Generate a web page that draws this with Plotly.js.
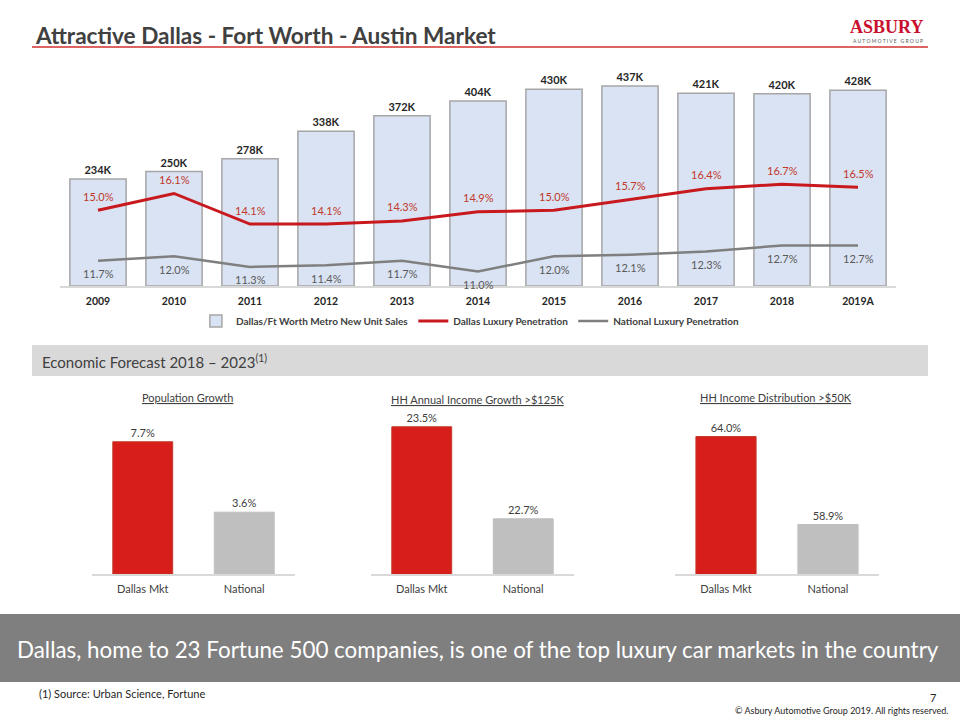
<!DOCTYPE html>
<html><head><meta charset="utf-8">
<script src="https://cdn.plot.ly/plotly-3.0.1.min.js"></script>
<style>html,body{margin:0;padding:0;background:#fff}#chart{width:960px;height:720px}</style>
</head><body><div id="chart"></div>
<script>
// ---- data ----
const years = ['2009','2010','2011','2012','2013','2014','2015','2016','2017','2018','2019A'];
const unitSalesK = [234,250,278,338,372,404,430,437,421,420,428];
const dallasLuxuryPct = [15.0,16.1,14.1,14.1,14.3,14.9,15.0,15.7,16.4,16.7,16.5];
const nationalLuxuryPct = [11.7,12.0,11.3,11.4,11.7,11.0,12.0,12.1,12.3,12.7,12.7];
const forecastCategories = ['Dallas Mkt','National'];
const populationGrowth = [7.7,3.6];
const hhIncomeGrowth = [23.5,22.7];
const hhIncomeDistribution = [64.0,58.9];

// ---- helpers ----
const W = 960, H = 720;
const px = v => v / W;
const py = v => 1 - v / H;
const FONT = 'Lato, "Open Sans", sans-serif';
const DARK = '#404040';

const traces = [
  {type:'bar', x:years, y:unitSalesK, name:'Dallas/Ft Worth Metro New Unit Sales',
   width:0.74, marker:{color:'#dae3f3', line:{color:'#a6a6a6', width:1.5}},
   text:unitSalesK.map(v=>v+'K'), textposition:'outside', cliponaxis:false,
   textfont:{family:FONT, size:11, weight:'bold', color:'#262626'},
   xaxis:'x', yaxis:'y', hoverinfo:'skip'},
  {type:'scatter', mode:'lines', x:years, y:dallasLuxuryPct, name:'Dallas Luxury Penetration',
   line:{color:'#c8191e', width:3}, xaxis:'x', yaxis:'y2', hoverinfo:'skip'},
  {type:'scatter', mode:'lines', x:years, y:nationalLuxuryPct, name:'National Luxury Penetration',
   line:{color:'#7f7f7f', width:2.5}, xaxis:'x', yaxis:'y2', hoverinfo:'skip'}
];

const small = [
  {vals:populationGrowth, xa:'x3', ya:'y3'},
  {vals:hhIncomeGrowth, xa:'x4', ya:'y4'},
  {vals:hhIncomeDistribution, xa:'x5', ya:'y5'}
];
small.forEach(s => traces.push({
  type:'bar', x:forecastCategories, y:s.vals, width:0.59, showlegend:false,
  marker:{color:['#d81e1a','#bfbfbf'], line:{color:['#c0392b','#bfbfbf'], width:1}},
  text:s.vals.map(v=>v.toFixed(1)+'%'), textposition:'outside', cliponaxis:false,
  textfont:{family:FONT, size:11, color:DARK},
  xaxis:s.xa, yaxis:s.ya, hoverinfo:'skip'
}));

const annotations = [];
dallasLuxuryPct.forEach((v,i)=>annotations.push({x:i, y:v, xref:'x', yref:'y2',
  text:v.toFixed(1)+'%', showarrow:false, yshift:14, font:{family:FONT, size:11, color:'#c0392b'}}));
nationalLuxuryPct.forEach((v,i)=>annotations.push({x:i, y:v, xref:'x', yref:'y2',
  text:v.toFixed(1)+'%', showarrow:false, yshift:-13, font:{family:FONT, size:11, color:'#595959'}}));

const paperText = (t, x, y, size, opts={}) => Object.assign({
  text:t, x:px(x), y:py(y), xref:'paper', yref:'paper', showarrow:false,
  xanchor:'left', yanchor:'middle', font:{family:FONT, size:size, color:DARK}
}, opts);

annotations.push(
  paperText('Attractive Dallas - Fort Worth - Austin Market', 33, 35, 22.6, {font:{family:FONT, size:22.6, weight:'bold', color:DARK}}),
  paperText('ASBURY', 925, 27, 18, {xanchor:'right', font:{family:'"Liberation Serif", serif', size:18, weight:'bold', color:'#c8102e'}}),
  paperText('A U T O M O T I V E   G R O U P', 925, 41, 5, {xanchor:'right', font:{family:FONT, size:5, color:'#595959'}}),
  paperText('Economic Forecast 2018 – 2023<sup>(1)</sup>', 40, 361, 15),
  paperText('<u>Population Growth</u>', 187, 397, 11, {xanchor:'center'}),
  paperText('<u>HH Annual Income Growth &gt;$125K</u>', 477, 399, 11, {xanchor:'center'}),
  paperText('<u>HH Income Distribution &gt;$50K</u>', 776, 397, 11, {xanchor:'center'}),
  paperText('Dallas, home to 23 Fortune 500 companies, is one of the top luxury car markets in the country', 478, 649, 22.4, {xanchor:'center', font:{family:FONT, size:22.4, color:'#ffffff'}}),
  paperText('(1) Source: Urban Science, Fortune', 37, 693, 11, {font:{family:FONT, size:11, color:'#262626'}}),
  paperText('7', 938, 697, 11, {xanchor:'right', font:{family:FONT, size:11, color:'#262626'}}),
  paperText('© Asbury Automotive Group 2019. All rights reserved.', 950, 710, 9, {xanchor:'right', font:{family:FONT, size:9, color:'#262626'}})
);

const shapes = [
  {type:'line', xref:'paper', yref:'paper', x0:px(32), x1:px(928), y0:py(47), y1:py(47), line:{color:'#d0312d', width:1.5}},
  {type:'rect', xref:'paper', yref:'paper', x0:px(32), x1:px(928), y0:py(345), y1:py(376), fillcolor:'#d9d9d9', line:{width:0}, layer:'below'},
  {type:'rect', xref:'paper', yref:'paper', x0:0, x1:1, y0:py(614), y1:py(682), fillcolor:'#7f7f7f', line:{width:0}, layer:'below'}
];

const catAxis = (dom, anchor, tf, n) => ({domain:[px(dom[0]), px(dom[1])], anchor:anchor, type:'category',
  range:[-0.5, n-0.5], showline:true, linecolor:'#d9d9d9', linewidth:2, ticks:'', showgrid:false, zeroline:false,
  ticklabelstandoff:4, tickfont:tf, fixedrange:true});
const valAxis = (dom, anchor, range) => ({domain:[py(dom[1]), py(dom[0])], anchor:anchor, range:range,
  visible:false, showgrid:false, zeroline:false, fixedrange:true});

const layout = {
  width:W, height:H, margin:{l:0,r:0,t:0,b:0}, paper_bgcolor:'#ffffff', plot_bgcolor:'rgba(0,0,0,0)',
  showlegend:true,
  legend:{orientation:'h', x:0.49, xanchor:'center', y:py(321), yanchor:'middle',
    font:{family:FONT, size:10, weight:'bold', color:DARK}, bgcolor:'rgba(0,0,0,0)'},
  xaxis:catAxis([60,896], 'y', {family:FONT, size:10.5, weight:'bold', color:'#262626'}, years.length),
  yaxis:valAxis([70,286], 'x', [0,472]),
  yaxis2:{overlaying:'y', anchor:'x', range:[10.05,24.17], visible:false, fixedrange:true},
  xaxis3:catAxis([92,295], 'y3', {family:FONT, size:11, color:DARK}, 2),
  yaxis3:valAxis([410,574], 'x3', [0,9.55]),
  xaxis4:catAxis([371,574], 'y4', {family:FONT, size:11, color:DARK}, 2),
  yaxis4:valAxis([410,574], 'x4', [22.22,23.646]),
  xaxis5:catAxis([675,879], 'y5', {family:FONT, size:11, color:DARK}, 2),
  yaxis5:valAxis([410,574], 'x5', [56.03,65.54]),
  annotations:annotations, shapes:shapes
};

Plotly.newPlot('chart', traces, layout, {staticPlot:true, displayModeBar:false});
</script></body></html>
